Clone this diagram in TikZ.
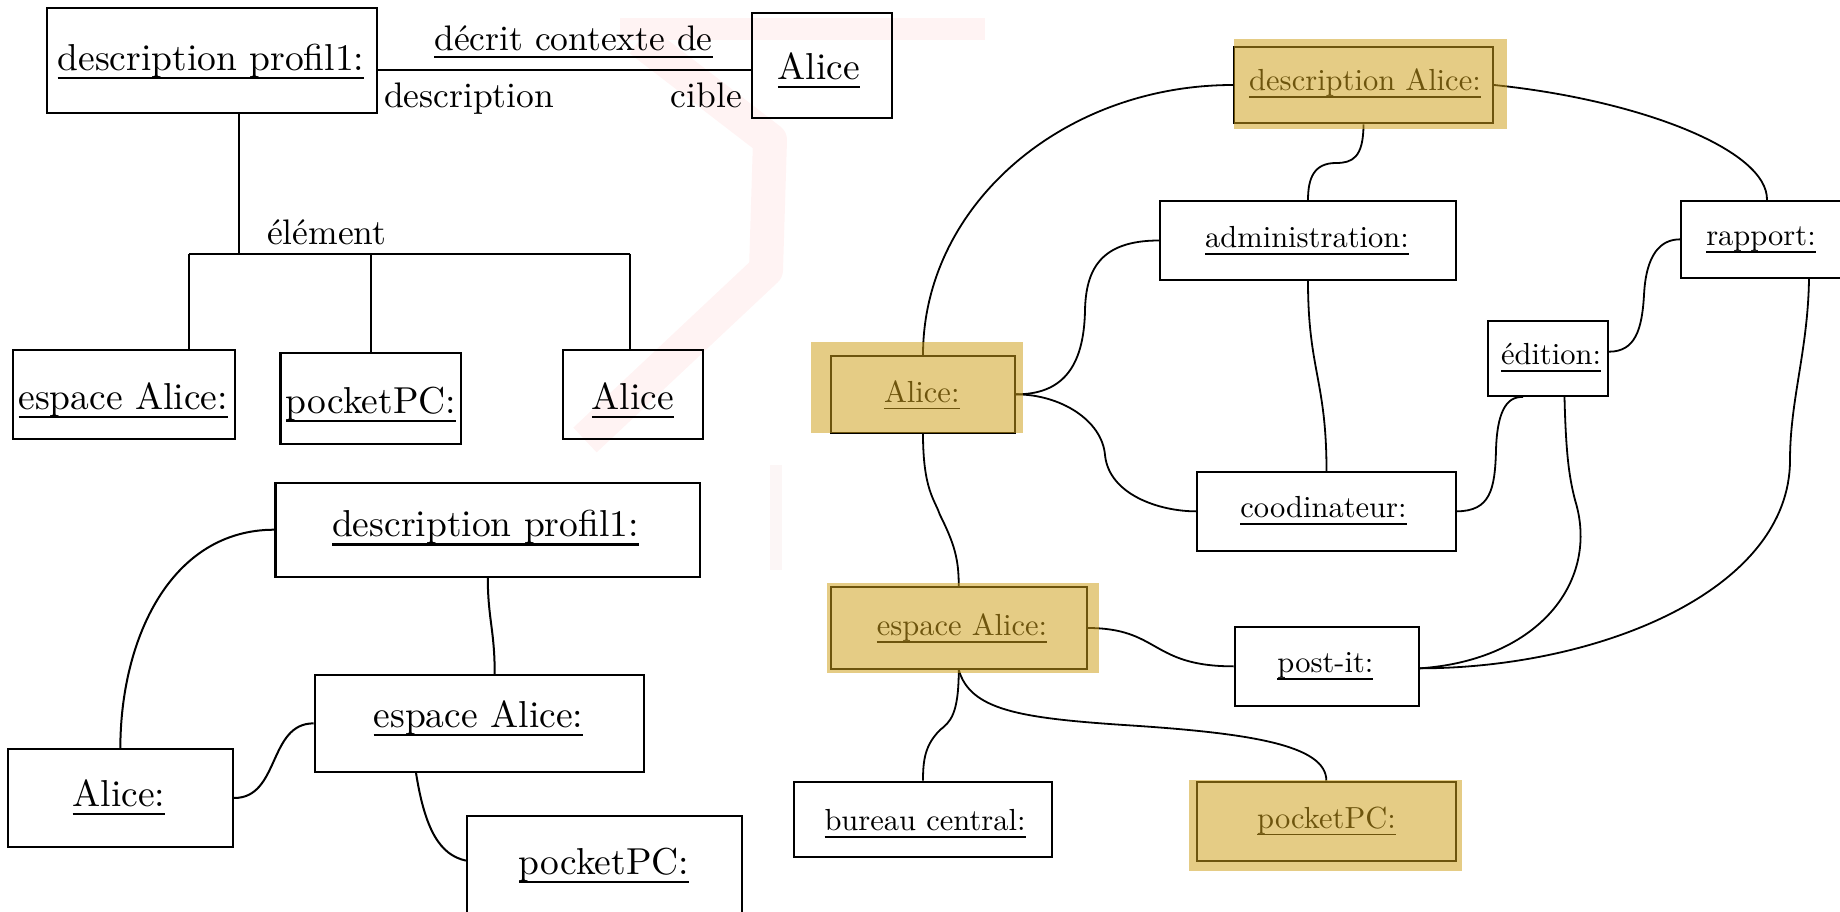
\documentclass[tikz,border=0pt]{standalone}
\usepackage{fontspec}
\setmainfont{lmroman10-regular.otf}
\newsavebox\ulinebox
% underlined object name, rule placed at a fixed depth below the baseline
\newcommand{\ultext}[1]{\sbox\ulinebox{#1}\rlap{\rule[-0.23em]{\wd\ulinebox}{0.055em}}\usebox\ulinebox}
\definecolor{goldhl}{RGB}{206,159,25}
\definecolor{faintmark}{RGB}{255,243,243}
\definecolor{faintermark}{RGB}{252,246,246}
\begin{document}
\begin{tikzpicture}[x=1pt,y=-1pt,
  objL/.style={draw, line width=2.2pt, inner sep=0pt},
  objR/.style={draw, line width=2pt, inner sep=0pt},
  bigtxt/.style={font=\fontsize{37.5}{40}\selectfont, inner sep=0pt, anchor=base},
  lbltxt/.style={font=\fontsize{35.5}{38}\selectfont, inner sep=0pt, anchor=base},
  smalltxt/.style={font=\fontsize{30.5}{33}\selectfont, inner sep=0pt, anchor=base},
  lconn/.style={line width=2pt},
  rconn/.style={line width=1.8pt},
  hl/.style={fill=goldhl, fill opacity=0.53}]
\useasboundingbox (0,0) rectangle (1840,912);
\clip (0,0) rectangle (1840,912);

% faint background mark
\fill[faintmark] (620,18) rectangle (985,40);
\draw[faintmark, line width=34pt, line join=round] (640,40) -- (770,140) -- (766,270) -- (585,440);
\fill[faintermark] (770,465) rectangle (782,570);

% ---------- upper left: association diagram ----------
\node[objL, minimum width=330pt, minimum height=105pt] (tlDesc) at (212,60.8) {};
\node[bigtxt] (tlDescT) at (211,70.6) {\ultext{description profil1:}};
\node[objL, minimum width=140pt, minimum height=105pt] (tlAlice) at (822,65.8) {};
\node[bigtxt] (tlAliceT) at (819,79.3) {\ultext{Alice}};
\node[objL, minimum width=221.7pt, minimum height=89.3pt] (tlEsp) at (123.85,394.65) {};
\node[bigtxt] (tlEspT) at (123.3,409.2) {\ultext{espace Alice:}};
\node[objL, minimum width=180.6pt, minimum height=91.6pt] (tlPoc) at (370.7,398.5) {};
\node[bigtxt] (tlPocT) at (371,413.2) {\ultext{pocketPC:}};
\node[objL, minimum width=140pt, minimum height=89.3pt] (tlAli) at (633,394.65) {};
\node[bigtxt] (tlAliT) at (633,409.2) {\ultext{Alice}};

\node[lbltxt] (lblDecrit) at (573.5,50.2) {\ultext{décrit contexte de}};
\node[lbltxt, anchor=base west] (lblDescr) at (384,108) {description};
\node[lbltxt, anchor=base east] (lblCible) at (742,108) {cible};
\node[lbltxt, anchor=base west] (lblElem) at (267,245) {élément};

\draw[lconn] ([yshift=-9.2pt]tlDesc.east) -- ([yshift=-9.2pt]tlDesc.east -| tlAlice.west);
\coordinate (tlJ) at (239.3,254);
\coordinate (barL) at (189,254);
\coordinate (barR) at (629.6,254);
\draw[lconn] (tlJ |- tlDesc.south) -- (tlJ);
\draw[lconn] (barL) -- (barR);
\draw[lconn] (barL) -- (barL |- tlEsp.north);
\draw[lconn] (tlPoc.north |- barL) -- (tlPoc.north);
\draw[lconn] (barR) -- (barR |- tlAli.north);

% ---------- lower left: object graph ----------
\node[objL, minimum width=424.5pt, minimum height=94pt] (blDesc) at (487.75,529.7) {};
\node[bigtxt] (blDescT) at (485.5,536.9) {\ultext{description profil1:}};
\node[objL, minimum width=329.2pt, minimum height=96.7pt] (blEsp) at (479.4,723.35) {};
\node[bigtxt] (blEspT) at (478.4,727.5) {\ultext{espace Alice:}};
\node[objL, minimum width=225.3pt, minimum height=97.4pt] (blAli) at (120.35,798) {};
\node[bigtxt] (blAliT) at (119,806.8) {\ultext{Alice:}};
\node[objL, minimum width=275pt, minimum height=114pt] (blPoc) at (604.5,873) {};
\node[bigtxt] (blPocT) at (604,874.2) {\ultext{pocketPC:}};

\draw[lconn] (blDesc.west) .. controls (170,529.7) and (120.35,640) .. (blAli.north);
\draw[lconn] (blDesc.south) .. controls (488,620) and (494.7,630) .. ([xshift=15.3pt]blEsp.north);
\draw[lconn] (blAli.east) .. controls (280,798) and (268,723.35) .. (blEsp.west);
\draw[lconn] ([xshift=-63.4pt]blEsp.south) .. controls (425,830) and (440,855) .. ([yshift=-45.7pt]blPoc.north west);

% ---------- right: object graph ----------
\node[objR, minimum width=259pt, minimum height=76.6pt] (rDesc) at (1363.5,85) {};
\node[smalltxt] (rDescT) at (1365,90.6) {\ultext{description Alice:}};
\node[objR, minimum width=296pt, minimum height=79pt] (rAdm) at (1308,240.5) {};
\node[smalltxt] (rAdmT) at (1307,247.9) {\ultext{administration:}};
\node[objR, minimum width=189pt, minimum height=76.7pt] (rRap) at (1775.5,239.35) {};
\node[smalltxt] (rRapT) at (1761,245.6) {\ultext{rapport:}};
\node[objR, minimum width=184pt, minimum height=76.7pt] (rAli) at (923,394.35) {};
\node[smalltxt] (rAliT) at (921.8,402.2) {\ultext{Alice:}};
\node[objR, minimum width=259pt, minimum height=78.7pt] (rCoo) at (1326.5,511.35) {};
\node[smalltxt] (rCooT) at (1323.5,517.9) {\ultext{coodinateur:}};
\node[objR, minimum width=120pt, minimum height=75pt] (rEdi) at (1548,358.5) {};
\node[smalltxt] (rEdiT) at (1551,364.9) {\ultext{édition:}};
\node[objR, minimum width=255.5pt, minimum height=81.4pt] (rEsp) at (958.75,628) {};
\node[smalltxt] (rEspT) at (962,635.6) {\ultext{espace Alice:}};
\node[objR, minimum width=184.2pt, minimum height=79.3pt] (rPost) at (1326.7,666.35) {};
\node[smalltxt] (rPostT) at (1325.4,672.9) {\ultext{post-it:}};
\node[objR, minimum width=258pt, minimum height=75pt] (rBur) at (923,819.2) {};
\node[smalltxt] (rBurT) at (925,830.6) {\ultext{bureau central:}};
\node[objR, minimum width=258.7pt, minimum height=79pt] (rPoc) at (1326.35,821.2) {};
\node[smalltxt] (rPocT) at (1326.5,828.2) {\ultext{pocketPC:}};

\draw[rconn] (rDesc.west) .. controls (1062,85) and (923,206) .. (rAli.north);
\draw[rconn] (rDesc.south) .. controls (1363.5,158) and (1352,163) .. (1336,163)
  .. controls (1314,163) and (1308,178) .. (rAdm.north);
\draw[rconn] (rDesc.east) .. controls (1640,100) and (1768,150) .. ([xshift=87pt]rRap.north west);
\draw[rconn] (rAdm.west) .. controls (1100,240.5) and (1086,270) .. (1085,310)
  .. controls (1084,370) and (1060,394.35) .. (rAli.east);
\draw[rconn] (rAli.east) .. controls (1060,394.35) and (1102,420) .. (1105,455)
  .. controls (1109,495) and (1160,511.35) .. (rCoo.west);
\draw[rconn] (rAdm.south) .. controls (1308,370) and (1326.5,380) .. (rCoo.north);
\draw[rconn] (rCoo.east) .. controls (1490,511) and (1495,490) .. (1496,450)
  .. controls (1497,415) and (1505,396) .. ([xshift=36pt]rEdi.south west);
\draw[rconn] ([yshift=6.8pt]rEdi.east) .. controls (1635,351.7) and (1642,330) .. (1644,295)
  .. controls (1646,255) and (1660,239.35) .. (rRap.west);
\draw[rconn] ([xshift=16.5pt]rEdi.south) .. controls (1566,460) and (1570,480) .. (1575,500)
  .. controls (1600,580) and (1540,660) .. ([yshift=-2pt]rPost.east);
\draw[rconn] ([xshift=129pt]rRap.south west) .. controls (1808,350) and (1790,400) .. (1790,460)
  .. controls (1790,590) and (1600,668) .. ([yshift=-2pt]rPost.east);
\draw[rconn] (rAli.south) .. controls (923,490) and (935,500) .. (940,515)
  .. controls (955,545) and (958.75,560) .. (rEsp.north);
\draw[rconn] (rEsp.east) .. controls (1160,628) and (1150,666.35) .. (rPost.west);
\draw[rconn] (rEsp.south) .. controls (958.75,715) and (950,722) .. (940,730)
  .. controls (925,745) and (923,760) .. (rBur.north);
\draw[rconn] (rEsp.south) .. controls (970,710) and (1020,718) .. (1124,725)
  .. controls (1250,733) and (1326.35,745) .. (rPoc.north);

% translucent highlight over the selected objects
\fill[hl] (1234,39.3) rectangle (1507,129.3);
\fill[hl] (811,342.3) rectangle (1023,432.7);
\fill[hl] (826.5,583.3) rectangle (1098.6,673.3);
\fill[hl] (1189,780) rectangle (1462,870.7);
\end{tikzpicture}
\end{document}
